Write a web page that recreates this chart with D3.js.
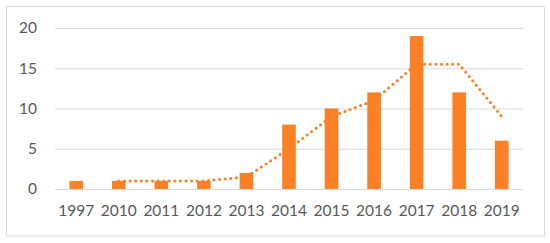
<!DOCTYPE html>
<html>
<head>
<meta charset="utf-8">
<script src="https://cdn.jsdelivr.net/npm/d3@7"></script>
<style>
  html, body { margin: 0; padding: 0; background: #fff; }
  svg { display: block; }
</style>
</head>
<body>
<div id="chart"></div>
<script>
// Chart values.
const years = ["1997", "2010", "2011", "2012", "2013", "2014", "2015", "2016", "2017", "2018", "2019"];
const counts = [1, 1, 1, 1, 2, 8, 10, 12, 19, 12, 6];
// Dotted trend line (2-period moving average), one value per year from 2010.
const trendYears = ["2010", "2011", "2012", "2013", "2014", "2015", "2016", "2017", "2018", "2019"];
const trendValues = [1, 1, 1, 1.5, 5, 9, 11, 15.5, 15.5, 9];
const yTicks = [0, 5, 10, 15, 20];

const width = 550, height = 243;
const orange = "#FB8026";
const textColor = "#595959";

const svg = d3.select("#chart").append("svg")
  .attr("width", width)
  .attr("height", height);

// Outer chart border.
svg.append("rect")
  .attr("x", 6.5).attr("y", 6.5)
  .attr("width", 538).attr("height", 229.5)
  .attr("fill", "#fff")
  .attr("stroke", "#d9d9d9")
  .attr("stroke-width", 1);

const x = d3.scaleBand()
  .domain(years)
  .range([55, 523])
  .paddingInner(0.68)
  .paddingOuter(0.34);

const y = d3.scaleLinear()
  .domain([0, 20])
  .range([189, 28]);

// Gridlines and y labels through a left axis.
const yAxis = svg.append("g")
  .attr("transform", "translate(55,0)")
  .call(d3.axisLeft(y).tickValues(yTicks).tickSize(-468).tickPadding(18));
yAxis.select(".domain").remove();
yAxis.selectAll(".tick line").attr("stroke", "#d9d9d9").attr("stroke-width", 1);
yAxis.selectAll(".tick text")
  .attr("fill", textColor)
  .style("font-family", "Lato, 'Liberation Sans', sans-serif")
  .style("font-size", "15.5px");

// Bars.
svg.append("g").selectAll("rect")
  .data(years)
  .enter()
  .append("rect")
  .attr("x", d => x(d))
  .attr("width", x.bandwidth())
  .attr("y", (d, i) => y(counts[i]))
  .attr("height", (d, i) => y(0) - y(counts[i]))
  .attr("fill", orange);

// Category axis.
const xAxis = svg.append("g")
  .attr("transform", "translate(0,189)")
  .call(d3.axisBottom(x).tickSize(0).tickPadding(16));
xAxis.select(".domain").attr("stroke", "#d9d9d9");
xAxis.selectAll(".tick text")
  .attr("fill", textColor)
  .style("font-family", "Lato, 'Liberation Sans', sans-serif")
  .style("font-size", "15.5px");

// Dotted trend line.
const line = d3.line()
  .x((d, i) => x(trendYears[i]) + x.bandwidth() / 2)
  .y(d => y(d));

svg.append("path")
  .datum(trendValues)
  .attr("d", line)
  .attr("fill", "none")
  .attr("stroke", orange)
  .attr("stroke-width", 3)
  .attr("stroke-linecap", "round")
  .attr("stroke-dasharray", "0.1 5.5");
</script>
</body>
</html>
